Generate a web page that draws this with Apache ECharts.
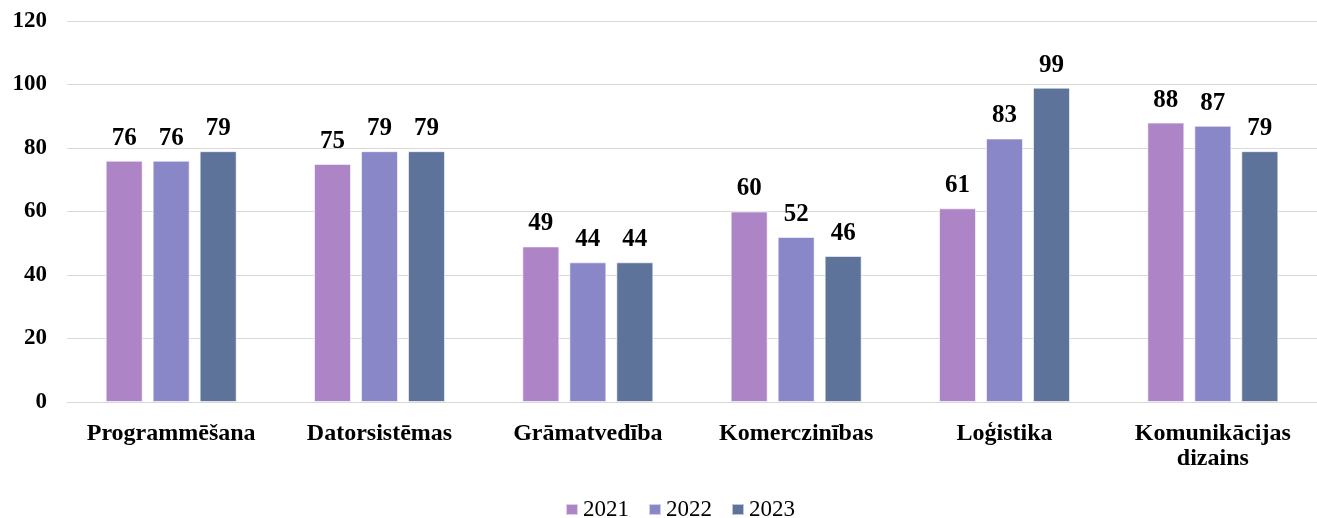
<!DOCTYPE html>
<html>
<head>
<meta charset="utf-8">
<script src="https://cdn.jsdelivr.net/npm/echarts@6/dist/echarts.min.js"></script>
<style>
  html, body { margin: 0; padding: 0; background: #fff; }
  #chart { width: 1317px; height: 518px; }
</style>
</head>
<body>
<div id="chart"></div>
<script>
// data
const categories = ['Programmēšana', 'Datorsistēmas', 'Grāmatvedība', 'Komerczinības', 'Loģistika', 'Komunikācijas\ndizains'];
const years = ['2021', '2022', '2023'];
const values2021 = [76, 75, 49, 60, 61, 88];
const values2022 = [76, 79, 44, 52, 83, 87];
const values2023 = [79, 79, 44, 46, 99, 79];
const yTicks = [0, 20, 40, 60, 80, 100, 120];

const colors = ['#ad84c6', '#8a87c8', '#5e7399'];
const font = 'Liberation Serif';

const chart = echarts.init(document.getElementById('chart'));

function makeSeries(name, data, i) {
    return {
        name: name,
        type: 'bar',
        data: data,
        barWidth: 37,
        barGap: '27%',
        itemStyle: { color: colors[i], borderColor: 'rgba(255,255,255,0.6)', borderWidth: 1 },
        label: {
            show: true,
            position: 'top',
            distance: 10,
            fontFamily: font,
            fontWeight: 'bold',
            fontSize: 25,
            color: '#000'
        }
    };
}

chart.setOption({
    animation: false,
    color: colors,
    grid: { left: 67, right: 0, top: 21, bottom: 116, containLabel: false },
    legend: {
        data: years,
        top: 498,
        left: 565,
        padding: 0,
        icon: 'rect',
        itemWidth: 12,
        itemHeight: 11,
        itemGap: 19,
        textStyle: { fontFamily: font, fontSize: 23, color: '#000' }
    },
    xAxis: {
        type: 'category',
        data: categories,
        axisLine: { lineStyle: { color: '#d9d9d9', width: 1 } },
        axisTick: { show: false },
        axisLabel: {
            fontFamily: font,
            fontWeight: 'bold',
            fontSize: 24,
            color: '#000',
            margin: 19,
            lineHeight: 25,
            interval: 0
        }
    },
    yAxis: {
        type: 'value',
        min: yTicks[0],
        max: yTicks[yTicks.length - 1],
        interval: yTicks[1] - yTicks[0],
        axisLine: { show: false },
        axisTick: { show: false },
        splitLine: { lineStyle: { color: '#d9d9d9', width: 1 } },
        axisLabel: {
            fontFamily: font,
            fontWeight: 'bold',
            fontSize: 23,
            color: '#000',
            margin: 20
        }
    },
    series: [
        makeSeries(years[0], values2021, 0),
        makeSeries(years[1], values2022, 1),
        makeSeries(years[2], values2023, 2)
    ]
});
</script>
</body>
</html>
